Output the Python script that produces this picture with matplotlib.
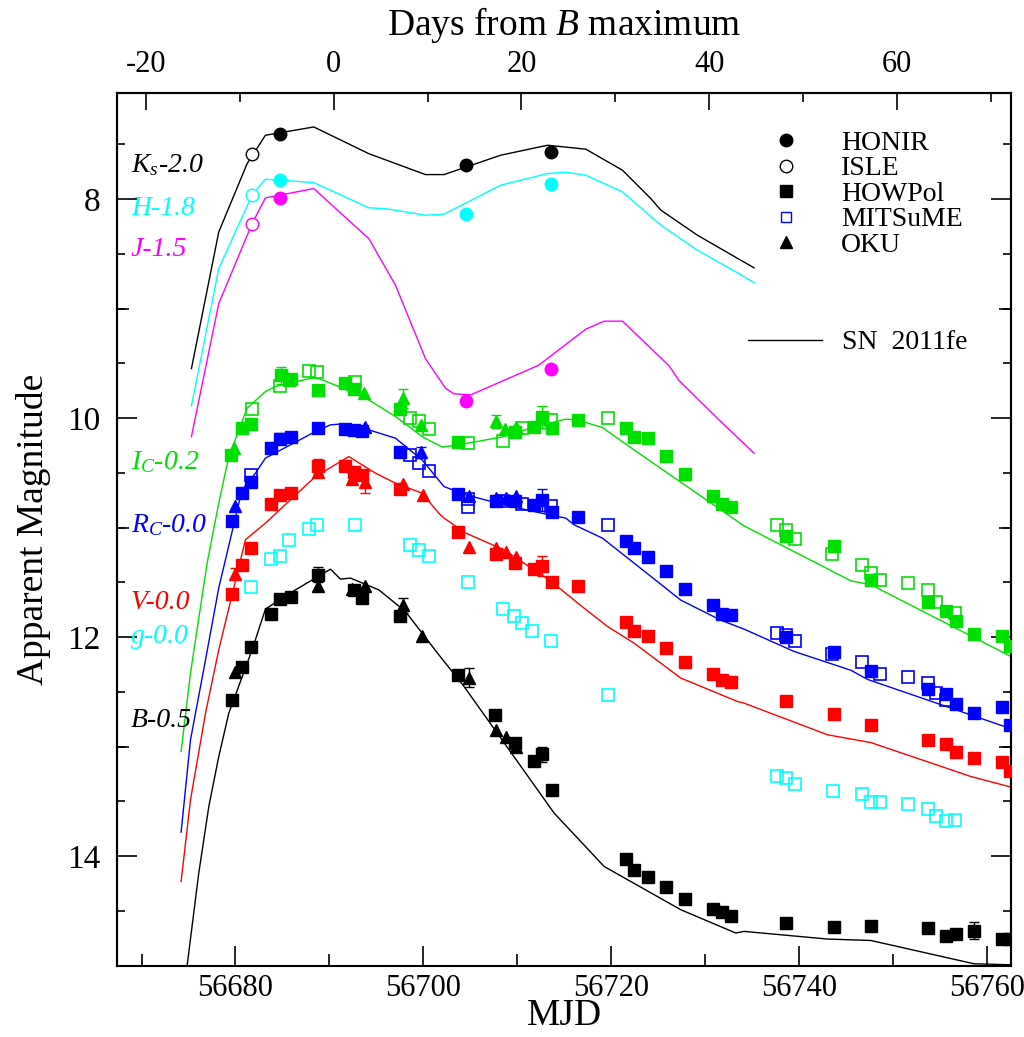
import numpy as np
import matplotlib
matplotlib.use("Agg")
import matplotlib.pyplot as plt
from matplotlib.lines import Line2D
from matplotlib.ticker import MultipleLocator, FixedLocator, NullFormatter

plt.rcParams['font.family'] = ['Liberation Serif', 'DejaVu Serif']
plt.rcParams['mathtext.fontset'] = 'custom'
plt.rcParams['mathtext.rm'] = 'Liberation Serif'
plt.rcParams['mathtext.it'] = 'Liberation Serif:italic'
plt.rcParams['axes.unicode_minus'] = False

GREEN = '#00e000'
CYAN = '#00ffff'
MAGENTA = '#ff00ff'
BLUE = '#0000ff'
RED = '#ff0000'
BLACK = '#000000'

B_MAX_MJD = 56690.45

# SN 2011fe templates (already shifted)
ks_tmpl_mjd = [56675.31, 56678.22, 56681.24, 56683.19, 56688.34, 56694.20, 56700.23, 56702.21,
               56708.25, 56713.23, 56717.31, 56721.21, 56724.24, 56725.30, 56729.20, 56733.81, 56735.23]
ks_tmpl_mag = [9.547, 8.299, 7.675, 7.416, 7.340, 7.584, 7.775, 7.775,
               7.598, 7.507, 7.543, 7.735, 7.995, 8.10, 8.329, 8.557, 8.627]

h_tmpl_mjd = [56675.31, 56678.22, 56681.77, 56683.19, 56688.34, 56694.20, 56695.97, 56700.23, 56702.21,
              56708.25, 56713.23, 56715.18, 56717.31, 56721.21, 56725.30, 56729.20, 56733.81, 56735.23]
h_tmpl_mag = [9.888, 8.634, 7.963, 7.817, 7.848, 8.079, 8.086, 8.146, 8.137,
              7.872, 7.766, 7.753, 7.781, 7.933, 8.237, 8.466, 8.689, 8.762]

j_tmpl_mjd = [56675.31, 56678.22, 56681.77, 56683.19, 56688.34, 56694.20, 56697.04, 56700.23, 56702.40,
              56703.28, 56705.06, 56712.30, 56717.31, 56719.26, 56721.21, 56723.34, 56726.18, 56727.24,
              56731.68, 56735.23]
j_tmpl_mag = [10.168, 8.953, 8.223, 7.988, 7.903, 8.360, 8.785, 9.456, 9.730,
              9.778, 9.787, 9.516, 9.187, 9.114, 9.114, 9.288, 9.522, 9.657,
              10.031, 10.320]

i_tmpl_mjd = [56674.21, 56675.21, 56676.98, 56678.22, 56679.29, 56681.24, 56683.19, 56684.26, 56688.34,
              56689.05, 56691.00, 56694.20, 56697.04, 56699.87, 56702.04, 56704.34, 56708.60, 56711.45,
              56715.18, 56716.42, 56719.08, 56722.45, 56731.68, 56734.16, 56745.55, 56747.68, 56762.59]
i_tmpl_mag = [13.045, 12.329, 11.324, 10.776, 10.351, 9.909, 9.757, 9.711, 9.629,
              9.644, 9.711, 9.833, 9.985, 10.168, 10.265, 10.235, 10.168, 10.091,
              10.009, 10.016, 10.086, 10.290, 10.837, 10.984, 11.486, 11.522, 12.177]

r_tmpl_mjd = [56674.21, 56675.21, 56676.81, 56678.22, 56680.70, 56682.13, 56683.19, 56688.52, 56690.12,
              56691.00, 56694.20, 56697.04, 56699.87, 56702.21, 56704.53, 56708.60, 56713.40, 56715.18,
              56716.06, 56719.08, 56722.45, 56727.42, 56731.68, 56734.16, 56739.49, 56745.55, 56747.30,
              56762.59]
r_tmpl_mag = [13.781, 12.938, 12.207, 11.550, 10.655, 10.502, 10.365, 10.122, 10.061,
              10.055, 10.107, 10.183, 10.381, 10.625, 10.700, 10.792, 10.883, 10.913,
              10.974, 11.096, 11.324, 11.662, 11.845, 11.927, 12.131, 12.303, 12.386,
              12.837]

v_tmpl_mjd = [56674.21, 56675.21, 56676.81, 56678.22, 56681.06, 56683.19, 56688.52, 56692.07, 56694.91,
              56697.04, 56699.87, 56701.65, 56702.21, 56704.53, 56708.60, 56713.40, 56717.12, 56719.62,
              56722.45, 56727.42, 56733.46, 56734.16, 56743.05, 56747.66, 56758.31, 56762.59]
v_tmpl_mag = [14.232, 13.486, 12.694, 12.116, 11.111, 10.959, 10.533, 10.351, 10.502,
              10.594, 10.685, 10.868, 10.913, 11.050, 11.203, 11.477, 11.735, 11.903,
              12.055, 12.374, 12.588, 12.603, 12.892, 12.963, 13.273, 13.370]

b_tmpl_mjd = [56674.85, 56676.09, 56677.16, 56678.22, 56679.29, 56681.77, 56683.19, 56686.39, 56690.12,
              56691.18, 56692.25, 56695.26, 56698.10, 56701.65, 56704.34, 56713.93, 56719.26, 56727.42,
              56733.28, 56734.16, 56743.05, 56747.66, 56758.66, 56762.59]
b_tmpl_mag = [15.0, 14.155, 13.547, 13.091, 12.694, 12.116, 11.744, 11.568, 11.379,
              11.470, 11.461, 11.568, 11.766, 12.161, 12.451, 13.607, 14.095, 14.490,
              14.703, 14.688, 14.758, 14.771, 14.984, 14.993]

# HONIR (filled circles) and ISLE (open circles), NIR
honir_mjd = [56684.79, 56704.60, 56713.58]
honir_ks = [7.406, 7.684, 7.568]
honir_h = [7.826, 8.132, 7.863]
honir_j = [7.985, 9.839, 9.553]
isle_mjd = [56681.77]
isle_ks = [7.584]
isle_h = [7.963]
isle_j = [8.223]

# HOWPol (filled squares)
howpol_b_mjd = [56679.64, 56680.70, 56681.60, 56683.73, 56684.79, 56685.86, 56688.76, 56692.60, 56693.48,
                56697.50, 56703.75, 56707.61, 56709.78, 56711.80, 56712.69, 56713.76, 56721.57, 56722.45,
                56723.94, 56725.83, 56727.85, 56730.83, 56731.86, 56732.75, 56738.68, 56743.75, 56747.73,
                56753.70, 56755.72, 56756.71, 56758.66, 56761.68, 56762.50]
howpol_b = [12.57, 12.27, 12.09, 11.79, 11.65, 11.63, 11.43, 11.57, 11.64,
            11.81, 12.35, 12.71, 12.97, 13.13, 13.07, 13.40, 14.03, 14.13,
            14.19, 14.28, 14.39, 14.48, 14.51, 14.55, 14.61, 14.65, 14.64,
            14.66, 14.73, 14.71, 14.68, 14.76, 14.76]

howpol_v_mjd = [56679.64, 56680.70, 56681.60, 56683.73, 56684.79, 56685.86, 56688.76, 56691.64, 56692.60,
                56693.48, 56697.50, 56703.75, 56707.72, 56709.78, 56711.80, 56712.69, 56713.76, 56716.53,
                56721.57, 56722.45, 56723.94, 56725.83, 56727.85, 56730.83, 56731.86, 56732.75, 56738.68,
                56743.75, 56747.73, 56753.70, 56755.72, 56756.71, 56758.66, 56761.68, 56762.50]
howpol_v = [11.61, 11.34, 11.19, 10.78, 10.70, 10.68, 10.44, 10.44, 10.49,
            10.52, 10.65, 11.04, 11.24, 11.32, 11.38, 11.35, 11.50, 11.53,
            11.86, 11.94, 11.99, 12.10, 12.23, 12.34, 12.39, 12.41, 12.58,
            12.70, 12.80, 12.94, 12.98, 13.05, 13.10, 13.14, 13.22]

howpol_r_mjd = howpol_v_mjd
howpol_r = [10.94, 10.68, 10.58, 10.27, 10.19, 10.17, 10.09, 10.10, 10.11,
            10.12, 10.31, 10.69, 10.76, 10.76, 10.79, 10.75, 10.86, 10.90,
            11.12, 11.19, 11.27, 11.40, 11.56, 11.71, 11.79, 11.80, 12.00,
            12.14, 12.31, 12.47, 12.52, 12.61, 12.69, 12.64, 12.80]

howpol_i_mjd = [56679.57, 56680.70, 56681.60, 56684.90, 56685.68, 56685.96, 56688.80, 56691.64, 56692.60,
                56697.50, 56703.75, 56709.78, 56711.80, 56712.69, 56713.76, 56716.53, 56721.57, 56722.45,
                56723.94, 56725.83, 56727.85, 56730.83, 56731.86, 56732.75, 56738.68, 56743.75, 56747.73,
                56753.70, 56755.72, 56756.71, 56758.66, 56761.68, 56762.50]
howpol_i = [10.34, 10.09, 10.05, 9.61, 9.65, 9.64, 9.74, 9.68, 9.73,
            9.92, 10.22, 10.13, 10.08, 9.99, 10.09, 10.02, 10.09, 10.17,
            10.18, 10.35, 10.51, 10.71, 10.78, 10.81, 11.08, 11.17, 11.48,
            11.68, 11.76, 11.85, 11.97, 11.99, 12.08]

# MITSuME (open squares)
mitsume_g_mjd = [56681.70, 56683.73, 56684.72, 56685.68, 56687.81, 56688.69, 56692.70, 56698.56, 56699.52,
                 56700.59, 56704.71, 56708.54, 56709.67, 56710.56, 56711.55, 56713.58, 56719.68, 56737.65,
                 56738.60, 56739.59, 56743.64, 56746.77, 56747.66, 56748.65, 56751.57, 56753.70, 56754.65,
                 56755.72, 56756.64]
mitsume_g = [11.54, 11.29, 11.26, 11.11, 11.01, 10.98, 10.98, 11.16, 11.20,
             11.26, 11.50, 11.74, 11.81, 11.87, 11.94, 12.04, 12.53, 13.27,
             13.29, 13.34, 13.41, 13.43, 13.51, 13.51, 13.52, 13.57, 13.63,
             13.68, 13.67]

mitsume_r_mjd = [56681.70, 56698.56, 56699.52, 56700.59, 56704.71, 56704.71, 56708.54, 56710.56, 56713.58,
                 56719.68, 56737.65, 56738.60, 56739.59, 56743.58, 56746.77, 56748.65, 56751.57, 56753.70,
                 56754.65, 56755.72]
mitsume_r = [10.52, 10.34, 10.41, 10.48, 10.74, 10.81, 10.76, 10.78, 10.80,
             10.98, 11.96, 11.98, 12.04, 12.15, 12.23, 12.34, 12.36, 12.42,
             12.51, 12.57]

mitsume_i_mjd = [56681.77, 56684.79, 56687.81, 56688.69, 56692.70, 56698.56, 56699.52, 56700.62, 56704.71,
                 56708.54, 56710.56, 56713.58, 56719.68, 56737.65, 56738.60, 56739.59, 56743.58, 56746.77,
                 56747.66, 56748.65, 56751.57, 56753.70, 56754.65, 56756.64]
mitsume_i = [9.92, 9.71, 9.57, 9.58, 9.67, 10.00, 10.03, 10.10, 10.23,
             10.21, 10.09, 10.02, 10.00, 10.98, 11.02, 11.10, 11.24, 11.34,
             11.41, 11.48, 11.51, 11.57, 11.68, 11.78]

# OKU (filled triangles)
oku_b_mjd = [56679.93, 56688.80, 56692.42, 56693.84, 56697.82, 56699.87, 56704.88, 56707.72, 56708.79, 56709.85]
oku_b = [12.32, 11.53, 11.56, 11.53, 11.71, 11.99, 12.37, 12.85, 12.91, 13.00]
oku_v_mjd = [56679.93, 56688.80, 56692.42, 56693.84, 56697.82, 56700.02, 56704.88, 56707.72, 56708.79, 56709.85]
oku_v = [11.42, 10.49, 10.56, 10.58, 10.60, 10.70, 11.18, 11.19, 11.22, 11.27]
oku_r_mjd = [56679.93, 56693.84, 56699.81, 56704.88, 56707.72, 56708.79, 56709.85]
oku_r = [10.80, 10.08, 10.31, 10.71, 10.73, 10.73, 10.71]
oku_i_mjd = [56679.82, 56693.66, 56697.82, 56699.81, 56707.72, 56708.68, 56709.85]
oku_i = [10.27, 9.77, 9.82, 10.06, 10.03, 10.10, 10.08]

# points with visible error bars
err_mjd = [56684.90, 56697.82, 56712.69, 56707.72, 56743.75, 56761.68,
           56684.79, 56712.69, 56699.81,
           56688.76, 56693.84, 56712.69, 56679.93,
           56688.76, 56697.82, 56704.88, 56712.69, 56758.66]
err_mag = [9.61, 9.82, 9.99, 10.03, 11.17, 11.99,
           10.19, 10.75, 10.31,
           10.44, 10.58, 11.35, 11.42,
           11.43, 11.71, 12.37, 13.07, 14.68]
err_val = [0.08, 0.09, 0.10, 0.06, 0.04, 0.05,
           0.05, 0.10, 0.05,
           0.07, 0.10, 0.09, 0.05,
           0.07, 0.07, 0.09, 0.07, 0.08]
err_color = [GREEN] * 6 + [BLUE] * 3 + [RED] * 4 + [BLACK] * 5

band_labels = [r'$K_s$-2.0', 'H-1.8', 'J-1.5', r'$I_C$-0.2', r'$R_C$-0.0', 'V-0.0', 'g-0.0', 'B-0.5']
band_label_colors = [BLACK, CYAN, MAGENTA, GREEN, BLUE, RED, CYAN, BLACK]
band_label_y = [0.9175, 0.8682, 0.8212, 0.5771, 0.5049, 0.4166, 0.3770, 0.2814]

fig = plt.figure(figsize=(10.24, 10.37), dpi=100)
ax = fig.add_axes([0.1147, 0.0689, 0.8726, 0.8414])

# templates
templates = [(ks_tmpl_mjd, ks_tmpl_mag, BLACK), (h_tmpl_mjd, h_tmpl_mag, CYAN),
             (j_tmpl_mjd, j_tmpl_mag, MAGENTA), (i_tmpl_mjd, i_tmpl_mag, GREEN),
             (r_tmpl_mjd, r_tmpl_mag, BLUE), (v_tmpl_mjd, v_tmpl_mag, RED),
             (b_tmpl_mjd, b_tmpl_mag, BLACK)]
for mjd, mag, c in templates:
    ax.plot(mjd, mag, color=c, lw=1.0, zorder=2)

# error bars
for m, y, e, c in zip(err_mjd, err_mag, err_val, err_color):
    ax.errorbar(m, y, yerr=e, fmt='none', ecolor=c, elinewidth=1.0, capsize=3.5, capthick=1.0, zorder=3)

sq = dict(marker='s', ls='none', ms=8, zorder=4)
op = dict(marker='s', ls='none', ms=8, mfc='none', mew=1.2, zorder=4)
tri = dict(marker='^', ls='none', ms=9, zorder=5)

for mjd, mag, c in [(howpol_b_mjd, howpol_b, BLACK), (howpol_v_mjd, howpol_v, RED),
                    (howpol_r_mjd, howpol_r, BLUE), (howpol_i_mjd, howpol_i, GREEN)]:
    ax.plot(mjd, mag, color=c, **sq)
for mjd, mag, c in [(mitsume_g_mjd, mitsume_g, CYAN), (mitsume_r_mjd, mitsume_r, BLUE),
                    (mitsume_i_mjd, mitsume_i, GREEN)]:
    ax.plot(mjd, mag, mec=c, **op)
for mjd, mag, c in [(oku_b_mjd, oku_b, BLACK), (oku_v_mjd, oku_v, RED),
                    (oku_r_mjd, oku_r, BLUE), (oku_i_mjd, oku_i, GREEN)]:
    ax.plot(mjd, mag, color=c, **tri)

for mag, c in [(honir_ks, BLACK), (honir_h, CYAN), (honir_j, MAGENTA)]:
    ax.plot(honir_mjd, mag, marker='o', ls='none', ms=9, color=c, zorder=5)
for mag, c in [(isle_ks, BLACK), (isle_h, CYAN), (isle_j, MAGENTA)]:
    ax.plot(isle_mjd, mag, marker='o', ls='none', ms=9, mfc='white', mec=c, mew=1.0, zorder=5)

for lab, c, y in zip(band_labels, band_label_colors, band_label_y):
    ax.text(0.0151, y, lab, transform=ax.transAxes, color=c, fontsize=20,
            style='italic', va='center', ha='left')

# legends
inst_handles = [
    Line2D([], [], marker='o', ls='none', color=BLACK, ms=9),
    Line2D([], [], marker='o', ls='none', mfc='white', mec=BLACK, ms=9),
    Line2D([], [], marker='s', ls='none', color=BLACK, ms=8),
    Line2D([], [], marker='s', ls='none', mfc='none', mec=BLUE, ms=7),
    Line2D([], [], marker='^', ls='none', color=BLACK, ms=9),
]
leg1 = ax.legend(inst_handles, ['HONIR', 'ISLE', 'HOWPol', 'MITSuME', 'OKU'],
                 loc='center left', bbox_to_anchor=(0.7323, 0.8842), frameon=False,
                 fontsize=20, handlelength=1.0, handletextpad=1.5, labelspacing=0.0,
                 borderpad=0, borderaxespad=0)
ax.add_artist(leg1)
ax.legend([Line2D([], [], color=BLACK, lw=1.0)], ['SN  2011fe'],
          loc='center left', bbox_to_anchor=(0.706, 0.7138), frameon=False,
          fontsize=20, handlelength=2.64, handletextpad=0.72, borderpad=0, borderaxespad=0)

# axes
ax.set_xlim(56667.43, 56762.59)
ax.set_ylim(15.0, 7.03)
ax.xaxis.set_major_locator(MultipleLocator(20))
ax.xaxis.set_minor_locator(MultipleLocator(10))
ax.yaxis.set_major_locator(MultipleLocator(2))
ax.yaxis.set_minor_locator(MultipleLocator(0.5))
ax.tick_params(axis='x', which='both', top=False, direction='in', labelsize=22, width=1.2, pad=6)
ax.tick_params(axis='x', which='major', length=14.4)
ax.tick_params(axis='x', which='minor', length=8.6)
ax.tick_params(axis='y', which='both', left=True, right=True, direction='in', labelsize=24, width=1.2, pad=12)
ax.tick_params(axis='y', which='major', length=14.4)
ax.tick_params(axis='y', which='minor', length=5.8)
for side in ('left', 'right'):
    sec = ax.secondary_yaxis(side)
    sec.yaxis.set_major_locator(FixedLocator([9, 11, 13]))
    sec.yaxis.set_major_formatter(NullFormatter())
    sec.tick_params(direction='in', length=8.6, width=1.2)
    sec.spines[side].set_linewidth(1.5)
for s in ax.spines.values():
    s.set_linewidth(1.5)

top = ax.secondary_xaxis('top', functions=(lambda m: m - B_MAX_MJD, lambda d: d + B_MAX_MJD))
top.xaxis.set_major_locator(FixedLocator([-20, 0, 20, 40, 60]))
top.xaxis.set_minor_locator(FixedLocator([-10, 10, 30, 50, 70]))
top.tick_params(which='both', direction='in', labelsize=22, width=1.2, pad=10)
top.tick_params(which='major', length=12.2)
top.tick_params(which='minor', length=6.5)
top.spines['top'].set_linewidth(1.5)
top.set_xlabel('Days from $B$ maximum', fontsize=27, labelpad=11)

ax.set_xlabel('MJD', fontsize=27, labelpad=-3)
ax.set_ylabel('Apparent Magnitude', fontsize=27, labelpad=12)

fig.savefig('out.png', dpi=100)
